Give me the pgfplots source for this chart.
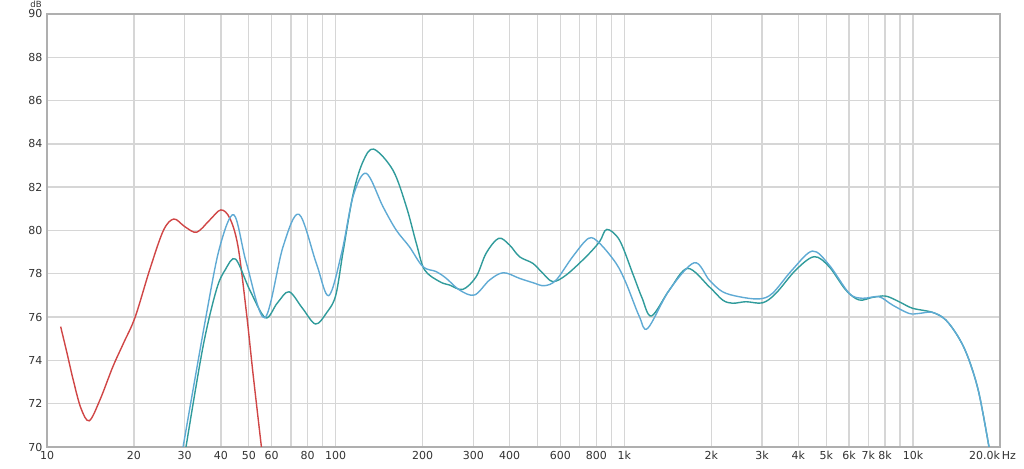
\documentclass[border=0pt]{standalone}
\usepackage{pgfplots}
\pgfplotsset{compat=1.18}
\usepackage{fontspec}
\setmainfont{DejaVu Sans}
\definecolor{cred}{RGB}{208,70,70}
\definecolor{cblue}{RGB}{95,170,212}
\definecolor{cteal}{RGB}{48,155,155}
\definecolor{cgrid}{RGB}{214,214,214}
\definecolor{cframe}{RGB}{175,175,175}
\definecolor{ctext}{RGB}{50,50,50}
\begin{document}
\begin{tikzpicture}
\begin{axis}[
  at={(47pt,21pt)}, anchor=south west,
  scale only axis, width=953pt, height=433pt,
  xmode=log, xmin=10, xmax=20000, ymin=70, ymax=90,
  xtick={10,20,30,40,50,60,80,100,200,300,400,600,800,1000,2000,3000,4000,5000,6000,7000,8000,10000,20000},
  xticklabels={10,20,30,40,50,60,80,100,200,300,400,600,800,1k,2k,3k,4k,5k,6k,7k,8k,10k,{\llap{20.0k}\rlap{\,Hz}}},
  minor xtick={70,90,500,700,900,9000},
  ytick={70,72,74,76,78,80,82,84,86,88,90},
  yticklabels={70,72,74,76,78,80,82,84,86,88,90},
  xmajorgrids, xminorgrids, ymajorgrids,
  major grid style={draw=cgrid, line width=1.4pt},
  minor grid style={draw=cgrid, line width=1.4pt},
  major tick length=0pt, minor tick length=0pt,
  axis line style={draw=cframe, line width=2.4pt},
  tick label style={font=\fontsize{11}{13}\selectfont, text=ctext},
  xticklabel style={yshift=-1pt},
  yticklabel style={xshift=-1pt},
  clip=true,
]
\addplot[cred, line width=1.4pt, smooth, tension=0.55] coordinates {
(11.15,75.56) (11.7,74.4) (12.33,73.09) (13.1,71.8) (14.0,71.21) (15.25,72.17) (16.9,73.7) (18.4,74.79) (20.2,76.0) (22.7,78.2) (25.3,80.0) (27.5,80.53) (30.0,80.18) (33.0,79.92) (36.6,80.48) (40.0,80.95) (43.0,80.56) (45.9,79.25) (49.1,76.17) (51.7,73.4) (55.3,70.0)
};
\addplot[cteal, line width=1.4pt, smooth, tension=0.55] coordinates {
(30.3,70.0) (34.7,74.63) (38.6,77.25) (41.5,78.2) (45.0,78.68) (50.4,77.25) (57.1,75.97) (62.7,76.64) (68.9,77.17) (76.7,76.41) (85.1,75.68) (93,76.2) (100,77.0) (106,79.0) (115,81.7) (124.3,83.18) (135.3,83.76) (157.8,82.79) (175.7,81.1) (190.2,79.41) (203.2,78.18) (229,77.64) (248,77.48) (275.7,77.28) (306.7,77.87) (332,78.95) (367,79.64) (400,79.33) (433,78.79) (482,78.48) (522,78.02) (565,77.64) (628,77.94) (737,78.79) (820,79.48) (869,80.05) (961,79.56) (1068,78.02) (1150,76.9) (1240,76.05) (1431,77.25) (1656,78.25) (1968,77.4) (2188,76.79) (2370,76.64) (2636,76.71) (3010,76.66) (3349,77.1) (3927,78.18) (4542,78.79) (5117,78.33) (5846,77.25) (6504,76.79) (7229,76.91) (8040,76.97) (8945,76.71) (9946,76.41) (11660,76.22) (12970,75.87) (14430,75.02) (15620,74.02) (16910,72.48) (18320,70.0)
};
\addplot[cblue, line width=1.4pt, smooth, tension=0.55] coordinates {
(29.6,70.0) (35.7,76.17) (39.7,79.25) (44.4,80.72) (49.1,78.48) (56.8,75.97) (65.7,79.25) (74.6,80.75) (85.7,78.48) (94.6,76.99) (105,79.0) (115,81.6) (127.6,82.64) (145.8,81.1) (162,80.02) (180,79.25) (200.4,78.33) (223,78.1) (241.5,77.79) (268.5,77.25) (302.6,77.02) (341,77.71) (381,78.05) (433,77.79) (482,77.59) (528,77.45) (580,77.71) (662,78.79) (752,79.64) (820,79.41) (936,78.48) (1014,77.56) (1127,76.02) (1204,75.48) (1431,77.25) (1746,78.51) (1968,77.71) (2188,77.17) (2500,76.94) (2930,76.84) (3258,77.1) (3813,78.18) (4479,79.05) (5117,78.41) (6006,77.1) (6675,76.87) (7621,76.94) (8475,76.56) (9676,76.17) (10490,76.17) (11660,76.22) (12970,75.87) (14430,75.02) (15620,74.02) (16910,72.48) (18320,70.0)
};
\end{axis}
\node[font=\fontsize{8.5}{9}\selectfont, text=ctext, inner sep=0pt, anchor=north] at (36pt,467pt) {dB};
\pgfresetboundingbox
\useasboundingbox (0,0) rectangle (1024pt,468pt);
\end{tikzpicture}
\end{document}
